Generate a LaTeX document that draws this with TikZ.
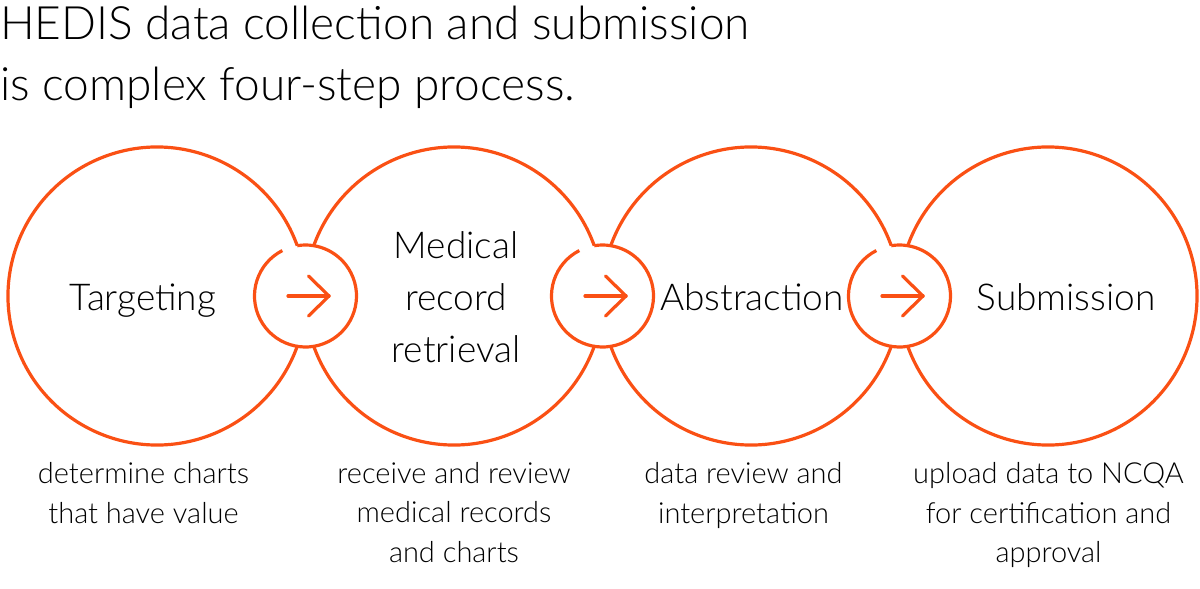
\documentclass[tikz,border=0pt]{standalone}
\usepackage{fontspec}
\setmainfont{Lato}[UprightFont=* Light]
\usetikzlibrary{positioning}
\definecolor{hedisorange}{RGB}{250,80,20}

\begin{document}
\begin{tikzpicture}[x=1pt,y=1pt,
  ring/.style={draw=hedisorange,line width=3.2pt},
  pointer/.style={ring,line cap=round,line join=round},
  heading/.style={anchor=base west,inner sep=0pt,font=\fontsize{46}{61}\selectfont},
  steplabel/.style={inner sep=0pt,align=center,font=\fontsize{37}{52}\selectfont},
  note/.style={inner sep=0pt,align=center,font=\fontsize{29}{39.5}\selectfont}]
  \useasboundingbox (0,0) rectangle (1200,-589);

  \node[heading] (title1) at (0,-39) {HEDIS data collection and submission};
  \node[heading] (title2) at (0,-100) {is complex four-step process.};

  \foreach \i in {0,...,3} \coordinate (c\i) at (157+297*\i,-296);
  \draw[ring] (c0) ++(19.75:149) arc[start angle=19.75,end angle=340.25,radius=149];
  \foreach \i in {1,2} {
    \draw[ring] (c\i) ++(19.75:149) arc[start angle=19.75,end angle=160.25,radius=149];
    \draw[ring] (c\i) ++(199.75:149) arc[start angle=199.75,end angle=340.25,radius=149];
  }
  \draw[ring] (c3) ++(199.75:149) arc[start angle=199.75,end angle=520.25,radius=149];

  \foreach \i in {1,2,3} {
    \coordinate (j\i) at (8.5+297*\i,-296);
    \draw[ring] (j\i) ++(117:51) arc[start angle=117,end angle=459.3,radius=51];
    \coordinate (tail\i) at (-9+297*\i,-296);
    \coordinate (tip\i) at (32+297*\i,-296);
    \coordinate (barbup\i) at (11.5+297*\i,-276);
    \coordinate (barbdown\i) at (11.5+297*\i,-316);
    \draw[pointer] (tail\i) -- (tip\i);
    \draw[pointer] (barbup\i) -- (tip\i) -- (barbdown\i);
  }

  \node[steplabel,anchor=base] (targeting) at (143,-310) {Targeting};
  \node[steplabel] (retrieval) at (456,-297) {Medical\\record\\retrieval};
  \node[steplabel,anchor=base] (abstraction) at (752,-310) {Abstraction};
  \node[steplabel,anchor=base] (submission) at (1066,-310) {Submission};

  \node[note] (targetnote) at (143.5,-493) {determine charts\\that have value};
  \node[note] (retrievalnote) at (454,-512.5) {receive and review\\medical records\\and charts};
  \node[note] (abstractnote) at (743.5,-495.5) {data review and\\interpretation};
  \node[note] (submitnote) at (1048.5,-515) {upload data to NCQA\\for certification and\\approval};
\end{tikzpicture}
\end{document}
